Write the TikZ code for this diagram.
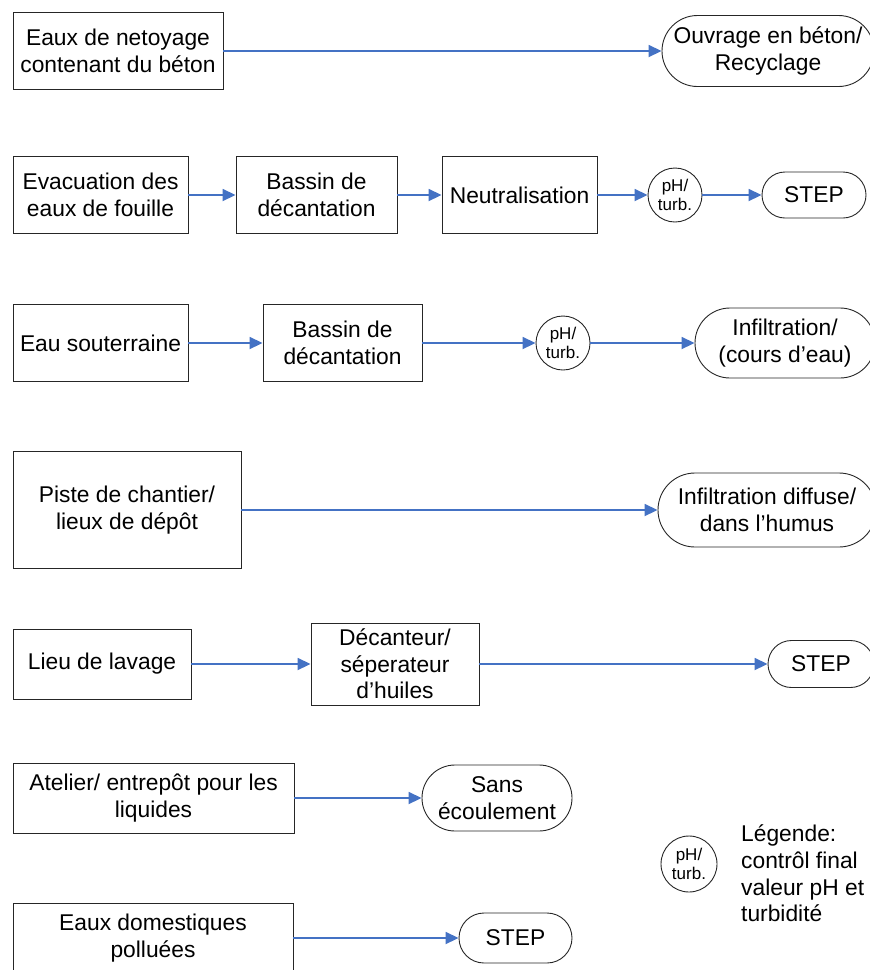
\documentclass[tikz,border=0pt]{standalone}
\usepackage{fontspec}
\setmainfont{Liberation Sans}
\usetikzlibrary{arrows.meta,shapes.misc}
\definecolor{flowblue}{RGB}{68,114,196}
\tikzset{
  processbox/.style={draw=black!85, line width=0.9pt, rectangle, align=center, inner sep=2pt},
  endbox/.style={draw=black!85, line width=0.9pt, rounded rectangle, align=center, inner sep=2pt},
  ctrlcircle/.style={draw=black!85, line width=0.9pt, circle, minimum size=54pt, inner sep=0pt, align=center, font=\fontsize{17}{18.5}\selectfont},
  flow/.style={draw=flowblue, line width=1.8pt, -{Triangle[length=13pt,width=12pt]}}
}
\begin{document}
\begin{tikzpicture}[x=1pt, y=-1pt, font=\fontsize{22.8}{26.7}\selectfont]
\useasboundingbox (0,0) rectangle (870,970);
\clip (0,0) rectangle (870,970);
\node[processbox, minimum width=210pt, minimum height=77pt] (netoyage) at (118,51) {Eaux de netoyage\\contenant du béton};
\node[endbox, minimum width=216pt, minimum height=71pt] (ouvrage) at (768,51) {Ouvrage en béton/\\Recyclage};
\node[processbox, minimum width=175pt, minimum height=77pt] (evacuation) at (100.5,195) {Evacuation des\\eaux de fouille};
\node[processbox, minimum width=161pt, minimum height=77pt] (bassinA) at (316.5,195) {Bassin de\\décantation};
\node[processbox, minimum width=155pt, minimum height=77pt] (neutral) at (519.5,195) {Neutralisation};
\node[ctrlcircle] (phA) at (675,195) {pH/\\turb.};
\node[endbox, minimum width=108pt, minimum height=46pt] (stepA) at (814,195) {STEP};
\node[processbox, minimum width=175pt, minimum height=77pt] (souterraine) at (100.5,343) {Eau souterraine};
\node[processbox, minimum width=159pt, minimum height=77pt] (bassinB) at (342.5,343) {Bassin de\\décantation};
\node[ctrlcircle] (phB) at (563,343) {pH/\\turb.};
\node[endbox, minimum width=184pt, minimum height=70pt] (infiltration) at (785,343) {Infiltration/\\(cours d’eau)};
\node[processbox, minimum width=228pt, minimum height=117pt] (piste) at (127,510) {Piste de chantier/\\lieux de dépôt};
\node[endbox, minimum width=222pt, minimum height=74pt] (diffuse) at (767,510) {Infiltration diffuse/\\dans l’humus};
\node[processbox, minimum width=178pt, minimum height=70pt] (lavage) at (102,664) {Lieu de lavage};
\node[processbox, minimum width=168pt, minimum height=82pt] (decanteur) at (395,664) {Décanteur/\\séperateur\\d’huiles};
\node[endbox, minimum width=110pt, minimum height=47pt] (stepB) at (821,664) {STEP};
\node[processbox, minimum width=281pt, minimum height=70pt] (atelier) at (153.5,798) {Atelier/ entrepôt pour les\\liquides};
\node[endbox, minimum width=154pt, minimum height=66pt] (sans) at (497,798) {Sans\\écoulement};
\node[processbox, minimum width=280pt, minimum height=70pt] (domestiques) at (153,938) {Eaux domestiques\\polluées};
\node[endbox, minimum width=117pt, minimum height=50pt] (stepC) at (515.5,938) {STEP};
\node[ctrlcircle, minimum size=56pt] (phLegend) at (689,864) {pH/\\turb.};
\node[anchor=west, align=left, inner sep=0pt] (legendtext) at (741,873.6) {Légende:\\contrôl final\\valeur pH et\\turbidité};
\foreach \a/\b in {netoyage/ouvrage, evacuation/bassinA, bassinA/neutral, neutral/phA, phA/stepA, souterraine/bassinB, bassinB/phB, phB/infiltration, piste/diffuse, lavage/decanteur, decanteur/stepB, atelier/sans, domestiques/stepC}
  \draw[flow] (\a) -- (\b);
\end{tikzpicture}
\end{document}
